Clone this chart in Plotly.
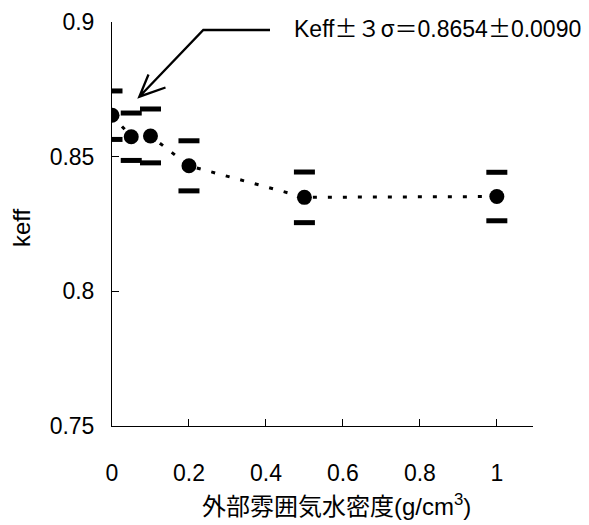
import plotly.graph_objects as go

# data
density = [0.0, 0.05, 0.1, 0.2, 0.5, 1.0]
keff = [0.8654, 0.8574, 0.8577, 0.8466, 0.8349, 0.8352]
err3s = [0.0090, 0.0088, 0.0100, 0.0093, 0.0094, 0.0090]
xticks = [0, 0.2, 0.4, 0.6, 0.8, 1.0]
xticklabels = ["0", "0.2", "0.4", "0.6", "0.8", "1"]
yticks = [0.75, 0.8, 0.85, 0.9]
yticklabels = ["0.75", "0.8", "0.85", "0.9"]

upper = [k + e for k, e in zip(keff, err3s)]
lower = [k - e for k, e in zip(keff, err3s)]

# page body has an 8px margin: shrink the figure so it fits the 589x525 window
OFF = 8
W, H = 589 - OFF, 525 - OFF
L, R, T, B = 112 - OFF, 56, 22 - OFF, 99
PW = W - L - R
PH = H - T - B
XMAX = 1.094
YMIN, YMAX = 0.75, 0.9


def px2x(px):  # reference-window pixel -> data x
    return (px - 112) / PW * XMAX


def px2y(py):  # reference-window pixel -> data y
    return YMAX - (py - 22) / PH * (YMAX - YMIN)


fig = go.Figure()
fig.add_trace(go.Scatter(
    x=density, y=keff, mode="lines+markers",
    line=dict(color="black", width=3, dash="4px,11px"),
    marker=dict(color="black", size=15, symbol="circle"),
    showlegend=False, hoverinfo="skip"))
for arr in (upper, lower):
    fig.add_trace(go.Scatter(
        x=density, y=arr, mode="markers",
        marker=dict(symbol="line-ew", size=15,
                    line=dict(color="black", width=5)),
        showlegend=False, hoverinfo="skip"))

# leader line + open arrow head
p = [(270, 30), (203.3, 30), (139.3, 96.7)]
arms = [(148.5, 74.5), (139.3, 96.7), (165.5, 87.5)]
path = "M {} {} L {} {} L {} {}".format(*[v for pt in p for v in (px2x(pt[0]), px2y(pt[1]))])
path += " M {} {} L {} {} L {} {}".format(*[v for pt in arms for v in (px2x(pt[0]), px2y(pt[1]))])
fig.add_shape(type="path", path=path, xref="x", yref="y",
              line=dict(color="black", width=2.3))

CJK = "Noto Sans CJK JP"
fig.add_annotation(
    x=px2x(292), y=px2y(26.5), xref="x", yref="y", xanchor="left", yanchor="middle",
    text="Keff<span style=\"font-family:'Noto Sans CJK JP'\">±３σ＝</span>0.8654"
         "<span style=\"font-family:'Noto Sans CJK JP'\">±</span>0.0090",
    showarrow=False, font=dict(family="Liberation Sans, " + CJK, size=23, color="black"))

fig.add_annotation(
    x=(336 - 112) / PW, y=-(505 - 426) / PH, xref="paper", yref="paper",
    xanchor="center", yanchor="middle", showarrow=False,
    text="外部雰囲気水密度(g/cm<sup>3</sup>)",
    font=dict(family="Liberation Sans, " + CJK, size=24, color="black"))

fig.add_annotation(
    x=-(112 - 21) / PW, y=0.49, xref="paper", yref="paper",
    xanchor="center", yanchor="middle", showarrow=False, textangle=-90,
    text="keff", font=dict(family="Liberation Sans", size=24, color="black"))

fig.update_layout(
    width=W, height=H, margin=dict(l=L, r=R, t=T, b=B, autoexpand=False),
    paper_bgcolor="white", plot_bgcolor="white",
    font=dict(family="Liberation Sans", size=23, color="black"),
    xaxis=dict(range=[0, XMAX], tickvals=xticks, ticktext=xticklabels,
               showgrid=False, zeroline=False, showline=True, linecolor="black",
               linewidth=1, ticks="inside", ticklen=7, tickcolor="black",
               ticklabelstandoff=26, automargin=False),
    yaxis=dict(range=[YMIN, YMAX], tickvals=yticks, ticktext=yticklabels,
               showgrid=False, zeroline=False, showline=True, linecolor="black",
               linewidth=1, ticks="inside", ticklen=7, tickcolor="black",
               ticklabelstandoff=12, automargin=False),
)
fig.write_html("out.html")
